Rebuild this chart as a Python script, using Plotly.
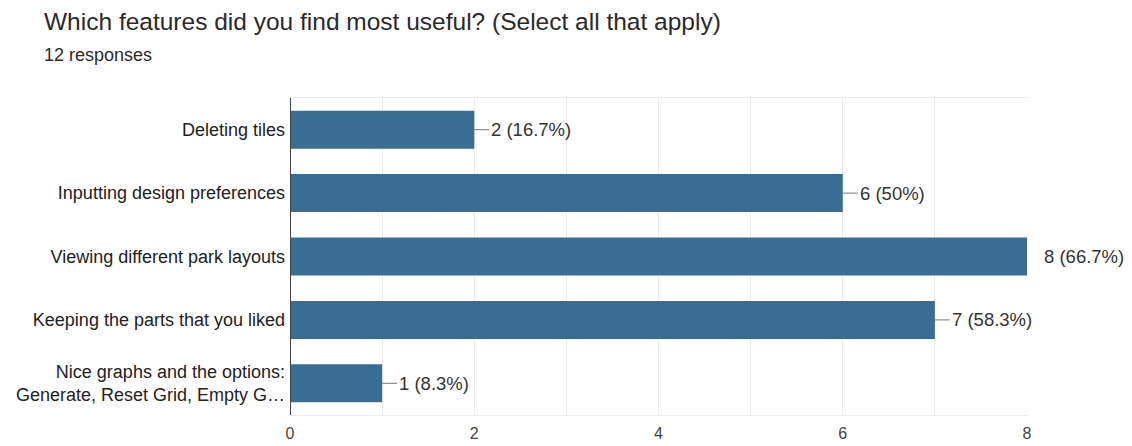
import plotly.graph_objects as go

title = "Which features did you find most useful? (Select all that apply)"
subtitle = "12 responses"
categories = [
    "Deleting tiles",
    "Inputting design preferences",
    "Viewing different park layouts",
    "Keeping the parts that you liked",
    "Nice graphs and the options:<br>Generate, Reset Grid, Empty G…",
]
counts = [2, 6, 8, 7, 1]
percents = ["16.7%", "50%", "66.7%", "58.3%", "8.3%"]
x_max = 8
tick_vals = [0, 2, 4, 6, 8]

bar_color = "#3a6d94"
FONT = "Liberation Sans, Arial, sans-serif"

fig = go.Figure()
fig.add_trace(go.Bar(
    x=counts, y=categories, orientation="h",
    marker=dict(color=bar_color, line=dict(width=0)),
    width=0.6, hoverinfo="skip",
))

annotations = []
for c, v, p in zip(categories, counts, percents):
    annotations.append(dict(
        x=v, y=c, xref="x", yref="y", text=f"{v} ({p})", showarrow=False,
        xanchor="left", yanchor="middle", xshift=15,
        font=dict(family=FONT, size=18.5, color="#333333"),
    ))

shapes = []
for c, v in zip(categories, counts):
    if v < x_max:
        shapes.append(dict(
            type="line", xsizemode="pixel", xanchor=v, x0=0, x1=15,
            xref="x", yref="y", y0=c, y1=c,
            line=dict(color="#777777", width=1),
        ))

annotations.append(dict(
    xref="paper", yref="paper", x=-(290 - 42) / 737, y=1 + (98 - 22) / 317,
    xanchor="left", yanchor="middle", text=title, showarrow=False,
    font=dict(family=FONT, size=24.5, color="#2a2a2a"),
))
annotations.append(dict(
    xref="paper", yref="paper", x=-(290 - 42) / 737, y=1 + (98 - 55) / 317,
    xanchor="left", yanchor="middle", text=subtitle, showarrow=False,
    font=dict(family=FONT, size=18, color="#2a2a2a"),
))

fig.update_layout(
    width=1132, height=446,
    margin=dict(l=290, r=105, t=98, b=31, autoexpand=False),
    paper_bgcolor="white", plot_bgcolor="white",
    showlegend=False,
    bargap=0.4,
    annotations=annotations,
    shapes=shapes,
    font=dict(family=FONT, size=18, color="#222222"),
    xaxis=dict(
        range=[0, x_max], tickvals=list(range(0, x_max + 1)),
        ticktext=[str(t) if t in tick_vals else "" for t in range(0, x_max + 1)],
        showgrid=True, gridcolor="#ebebeb", gridwidth=1,
        zeroline=False, showline=True, mirror=True, linecolor="#ebebeb",
        tickfont=dict(family=FONT, size=16, color="#444444"), ticks="", ticklabelstandoff=4,
        fixedrange=True, automargin=False,
    ),
    yaxis=dict(
        autorange="reversed", showgrid=False, zeroline=False,
        showline=False, ticks="", ticklabelstandoff=4, automargin=False,
        tickfont=dict(family=FONT, size=18, color="#222222"),
    ),
)
fig.add_shape(type="line", xref="x", yref="paper", x0=0, x1=0, y0=0, y1=1,
              line=dict(color="#444444", width=2))

fig.write_html("out.html")
